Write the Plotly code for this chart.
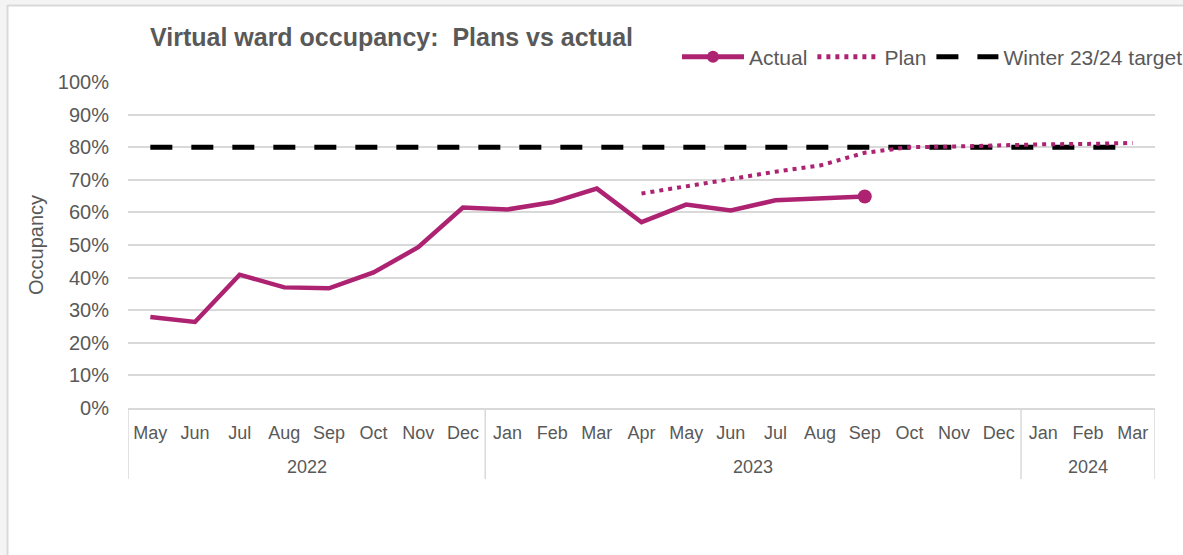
import plotly.graph_objects as go

# ---- data ----
years = ["2022"] * 8 + ["2023"] * 12 + ["2024"] * 3
months = ["May", "Jun", "Jul", "Aug", "Sep", "Oct", "Nov", "Dec",
          "Jan", "Feb", "Mar", "Apr", "May", "Jun", "Jul", "Aug", "Sep", "Oct", "Nov", "Dec",
          "Jan", "Feb", "Mar"]
actual = [27.9, 26.4, 40.9, 37.0, 36.7, 41.6, 49.3, 61.5,
          60.9, 63.1, 67.3, 57.0, 62.4, 60.6, 63.7, 64.3, 64.9]
plan = [None] * 11 + [65.8, 67.9, 70.2, 72.5, 74.4, 78.3, 80.0, 80.2, 80.6, 80.9, 81.0, 81.3]
target = [80] * 23

ytick_vals = list(range(0, 101, 10))
ytick_text = [f"{v}%" for v in ytick_vals]

# ---- layout constants ----
W, H = 1183, 555
L, R, T, B = 128, 28, 82, 147
PW, PH = W - L - R, H - T - B
MAG = "#AD2372"
GREY = "#595959"
LINEGREY = "#D9D9D9"
FONT = "Liberation Sans, Arial, sans-serif"


def fx(px):
    return (px - L) / PW


def fy(py):
    return 1 - (py - T) / PH


idx = list(range(len(months)))
n_act = len(actual)

fig = go.Figure()
fig.add_trace(go.Scatter(
    x=idx, y=target, name="Winter 23/24 target", mode="lines",
    line=dict(color="#000000", width=5, dash="22px,19px"),
))
fig.add_trace(go.Scatter(
    x=idx, y=plan, name="Plan", mode="lines",
    line=dict(color=MAG, width=4, dash="4px,5px"),
))
fig.add_trace(go.Scatter(
    x=idx[:n_act], y=actual, name="Actual", mode="lines+markers",
    line=dict(color=MAG, width=4.5),
    marker=dict(color=MAG, size=[0] * (n_act - 1) + [14], opacity=1,
                line=dict(width=0)),
))

# year group labels and dividers
annotations = []
shapes = []
groups = []
for i, yv in enumerate(years):
    if not groups or groups[-1][0] != yv:
        groups.append([yv, i, i])
    else:
        groups[-1][2] = i
for yv, a, b in groups:
    annotations.append(dict(text=yv, x=(a + b) / 2, xref="x", y=fy(467), yref="paper",
                            yanchor="middle", showarrow=False,
                            font=dict(size=18, color=GREY, family=FONT)))
bounds = [groups[0][1] - 0.5] + [g[2] + 0.5 for g in groups]
for bx in bounds:
    shapes.append(dict(type="line", xref="x", yref="paper", x0=bx, x1=bx,
                       y0=fy(479), y1=fy(408), line=dict(color=LINEGREY, width=1.5)))

# outer frame
shapes += [
    dict(type="rect", xref="paper", yref="paper", x0=fx(0), x1=fx(7), y0=fy(H), y1=fy(0),
         fillcolor="#F3F4F3", line=dict(width=0), layer="below"),
    dict(type="rect", xref="paper", yref="paper", x0=fx(0), x1=fx(W), y0=fy(5), y1=fy(0),
         fillcolor="#F3F4F3", line=dict(width=0), layer="below"),
    dict(type="line", xref="paper", yref="paper", x0=fx(7.5), x1=fx(7.5), y0=fy(H), y1=fy(5),
         line=dict(color=LINEGREY, width=2)),
    dict(type="line", xref="paper", yref="paper", x0=fx(7.5), x1=fx(W), y0=fy(5.5), y1=fy(5.5),
         line=dict(color=LINEGREY, width=2)),
]

fig.update_layout(
    width=W, height=H,
    margin=dict(l=L, r=R, t=T, b=B, autoexpand=False),
    paper_bgcolor="white", plot_bgcolor="white",
    font=dict(family=FONT, color=GREY, size=18),
    title=dict(text="<b>Virtual ward occupancy:  Plans vs actual</b>",
               x=150 / W, xanchor="left", xref="container",
               y=1 - 37 / H, yanchor="middle", yref="container",
               font=dict(size=25, color=GREY, family=FONT)),
    legend=dict(orientation="h", traceorder="reversed", itemsizing="constant",
                x=fx(1188), xanchor="right", y=fy(57), yanchor="middle",
                font=dict(size=21, color=GREY, family=FONT),
                bgcolor="rgba(0,0,0,0)", itemwidth=62),
    showlegend=True,
    xaxis=dict(
        range=[-0.5, len(months) - 0.5], tickvals=idx, ticktext=months,
        showgrid=False, showline=True, zeroline=False,
        linecolor=LINEGREY, linewidth=1.5,
        ticks="outside", ticklen=8, tickcolor="rgba(0,0,0,0)",
        tickfont=dict(size=18, color=GREY, family=FONT),
        automargin=False,
    ),
    yaxis=dict(
        range=[0, 100], tickvals=ytick_vals, ticktext=ytick_text,
        showgrid=True, gridcolor=LINEGREY, gridwidth=1.5,
        zeroline=False, showline=False,
        ticks="outside", ticklen=14, tickcolor="rgba(0,0,0,0)",
        tickfont=dict(size=20, color=GREY, family=FONT),
        title=dict(text="Occupancy", font=dict(size=20, color=GREY, family=FONT), standoff=8),
        automargin=False,
    ),
    annotations=annotations,
    shapes=shapes,
)

fig.write_html("out.html", config={"displayModeBar": False},
               post_script="document.body.style.margin='0';document.body.style.overflow='hidden';")
